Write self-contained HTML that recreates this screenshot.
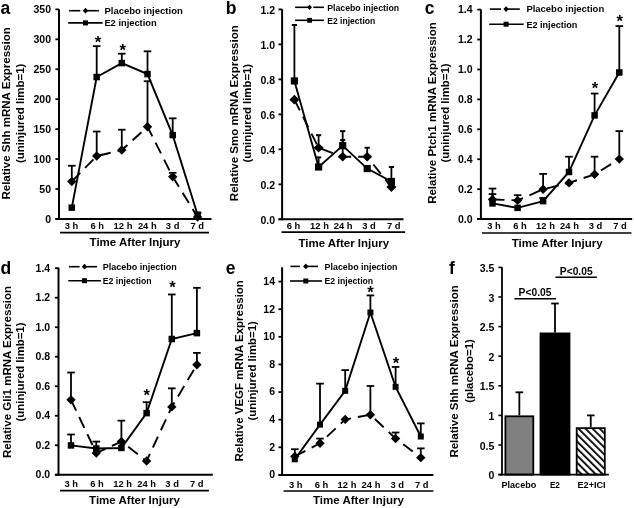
<!DOCTYPE html>
<html><head><meta charset="utf-8"><style>
html,body{margin:0;padding:0;background:#fff;}
svg{display:block;will-change:transform;}
text{font-family:"Liberation Sans",sans-serif;font-weight:bold;fill:#000;stroke:none;}
</style></head><body>
<svg width="634" height="508" viewBox="0 0 634 508">
<defs><pattern id="hatch" patternUnits="userSpaceOnUse" width="5" height="5" patternTransform="rotate(-45)"><rect width="5" height="5" fill="#fff"/><rect x="0" y="0" width="1.8" height="5" fill="#000"/></pattern></defs>
<rect width="634" height="508" fill="#fff"/>
<g stroke="#000" fill="#000">
<text x="0.50" y="13.80" font-size="17.5">a</text>
<line x1="59.00" y1="9.30" x2="59.00" y2="219.80" stroke-width="2.0"/>
<line x1="55.40" y1="218.90" x2="59.00" y2="218.90" stroke-width="1.8"/>
<text x="51.00" y="222.80" font-size="10.5" text-anchor="end">0</text>
<line x1="55.40" y1="188.97" x2="59.00" y2="188.97" stroke-width="1.8"/>
<text x="51.00" y="192.87" font-size="10.5" text-anchor="end">50</text>
<line x1="55.40" y1="159.04" x2="59.00" y2="159.04" stroke-width="1.8"/>
<text x="51.00" y="162.94" font-size="10.5" text-anchor="end">100</text>
<line x1="55.40" y1="129.11" x2="59.00" y2="129.11" stroke-width="1.8"/>
<text x="51.00" y="133.01" font-size="10.5" text-anchor="end">150</text>
<line x1="55.40" y1="99.19" x2="59.00" y2="99.19" stroke-width="1.8"/>
<text x="51.00" y="103.09" font-size="10.5" text-anchor="end">200</text>
<line x1="55.40" y1="69.26" x2="59.00" y2="69.26" stroke-width="1.8"/>
<text x="51.00" y="73.16" font-size="10.5" text-anchor="end">250</text>
<line x1="55.40" y1="39.33" x2="59.00" y2="39.33" stroke-width="1.8"/>
<text x="51.00" y="43.23" font-size="10.5" text-anchor="end">300</text>
<line x1="55.40" y1="9.40" x2="59.00" y2="9.40" stroke-width="1.8"/>
<text x="51.00" y="13.30" font-size="10.5" text-anchor="end">350</text>
<line x1="55.40" y1="218.90" x2="211.50" y2="218.90" stroke-width="2.0"/>
<text x="71.50" y="229.00" font-size="9.4" text-anchor="middle">3 h</text>
<text x="97.30" y="229.00" font-size="9.4" text-anchor="middle">6 h</text>
<text x="123.00" y="229.00" font-size="9.4" text-anchor="middle">12 h</text>
<text x="147.30" y="229.00" font-size="9.4" text-anchor="middle">24 h</text>
<text x="172.60" y="229.00" font-size="9.4" text-anchor="middle">3 d</text>
<text x="197.30" y="229.00" font-size="9.4" text-anchor="middle">7 d</text>
<line x1="60.00" y1="232.60" x2="209.00" y2="232.60" stroke-width="1.6"/>
<text x="89.60" y="246.20" font-size="11.5" textLength="90.80" lengthAdjust="spacingAndGlyphs">Time After Injury</text>
<text x="10.00" y="113.40" font-size="11.5" text-anchor="middle" textLength="172.30" lengthAdjust="spacingAndGlyphs" transform="rotate(-90 10.00 113.40)">Relative Shh mRNA Expression</text>
<text x="23.80" y="113.40" font-size="11.5" text-anchor="middle" textLength="99.40" lengthAdjust="spacingAndGlyphs" transform="rotate(-90 23.80 113.40)">(uninjured limb=1)</text>
<line x1="69.10" y1="10.70" x2="80.30" y2="10.70" stroke-width="1.6"/>
<line x1="85.50" y1="10.70" x2="98.90" y2="10.70" stroke-width="1.6"/>
<polygon points="85.50,7.80 88.20,10.70 85.50,13.60 82.80,10.70" stroke="none"/>
<line x1="68.20" y1="22.90" x2="102.60" y2="22.90" stroke-width="1.6"/>
<rect x="83.00" y="20.40" width="5.0" height="5.0" stroke="none"/>
<text x="104.40" y="14.00" font-size="9.3" textLength="78.40" lengthAdjust="spacingAndGlyphs">Placebo injection</text>
<text x="104.40" y="26.20" font-size="9.3" textLength="52.30" lengthAdjust="spacingAndGlyphs">E2 injection</text>
<line x1="71.80" y1="181.49" x2="71.80" y2="165.75" stroke-width="1.8"/>
<line x1="68.00" y1="165.75" x2="75.60" y2="165.75" stroke-width="1.8"/>
<line x1="96.70" y1="156.05" x2="96.70" y2="131.51" stroke-width="1.8"/>
<line x1="92.90" y1="131.51" x2="100.50" y2="131.51" stroke-width="1.8"/>
<line x1="121.80" y1="150.06" x2="121.80" y2="129.71" stroke-width="1.8"/>
<line x1="118.00" y1="129.71" x2="125.60" y2="129.71" stroke-width="1.8"/>
<line x1="147.50" y1="126.72" x2="147.50" y2="81.23" stroke-width="1.8"/>
<line x1="143.70" y1="81.23" x2="151.30" y2="81.23" stroke-width="1.8"/>
<line x1="172.70" y1="176.70" x2="172.70" y2="172.81" stroke-width="1.8"/>
<line x1="168.90" y1="172.81" x2="176.50" y2="172.81" stroke-width="1.8"/>
<line x1="197.60" y1="217.10" x2="197.60" y2="212.91" stroke-width="1.8"/>
<line x1="193.80" y1="212.91" x2="201.40" y2="212.91" stroke-width="1.8"/>
<line x1="96.70" y1="77.04" x2="96.70" y2="46.15" stroke-width="1.8"/>
<line x1="92.90" y1="46.15" x2="100.50" y2="46.15" stroke-width="1.8"/>
<line x1="121.80" y1="63.09" x2="121.80" y2="53.69" stroke-width="1.8"/>
<line x1="118.00" y1="53.69" x2="125.60" y2="53.69" stroke-width="1.8"/>
<line x1="147.50" y1="74.05" x2="147.50" y2="51.30" stroke-width="1.8"/>
<line x1="143.70" y1="51.30" x2="151.30" y2="51.30" stroke-width="1.8"/>
<line x1="172.70" y1="135.10" x2="172.70" y2="118.34" stroke-width="1.8"/>
<line x1="168.90" y1="118.34" x2="176.50" y2="118.34" stroke-width="1.8"/>
<polyline points="71.80,181.49 96.70,156.05 121.80,150.06 147.50,126.72 172.70,176.70 197.60,217.10" fill="none" stroke-width="1.9" stroke-dasharray="12,7"/>
<polyline points="71.80,207.65 96.70,77.04 121.80,63.09 147.50,74.05 172.70,135.10 197.60,214.71" fill="none" stroke-width="1.9"/>
<polygon points="71.80,176.79 76.50,181.49 71.80,186.19 67.10,181.49" stroke="none"/>
<polygon points="96.70,151.35 101.40,156.05 96.70,160.75 92.00,156.05" stroke="none"/>
<polygon points="121.80,145.36 126.50,150.06 121.80,154.76 117.10,150.06" stroke="none"/>
<polygon points="147.50,122.02 152.20,126.72 147.50,131.42 142.80,126.72" stroke="none"/>
<polygon points="172.70,172.00 177.40,176.70 172.70,181.40 168.00,176.70" stroke="none"/>
<polygon points="197.60,212.40 202.30,217.10 197.60,221.80 192.90,217.10" stroke="none"/>
<rect x="68.55" y="204.40" width="6.5" height="6.5" stroke="none"/>
<rect x="93.45" y="73.79" width="6.5" height="6.5" stroke="none"/>
<rect x="118.55" y="59.84" width="6.5" height="6.5" stroke="none"/>
<rect x="144.25" y="70.80" width="6.5" height="6.5" stroke="none"/>
<rect x="169.45" y="131.85" width="6.5" height="6.5" stroke="none"/>
<rect x="194.35" y="211.46" width="6.5" height="6.5" stroke="none"/>
<text x="98.00" y="47.84" font-size="16.6" text-anchor="middle">*</text>
<text x="122.80" y="56.24" font-size="16.6" text-anchor="middle">*</text>
<text x="225.80" y="14.30" font-size="17.5">b</text>
<line x1="282.10" y1="9.20" x2="282.10" y2="220.20" stroke-width="2.0"/>
<line x1="278.50" y1="219.30" x2="282.10" y2="219.30" stroke-width="1.8"/>
<text x="275.00" y="223.70" font-size="10.5" text-anchor="end">0.0</text>
<line x1="278.50" y1="184.32" x2="282.10" y2="184.32" stroke-width="1.8"/>
<text x="275.00" y="188.72" font-size="10.5" text-anchor="end">0.2</text>
<line x1="278.50" y1="149.33" x2="282.10" y2="149.33" stroke-width="1.8"/>
<text x="275.00" y="153.73" font-size="10.5" text-anchor="end">0.4</text>
<line x1="278.50" y1="114.35" x2="282.10" y2="114.35" stroke-width="1.8"/>
<text x="275.00" y="118.75" font-size="10.5" text-anchor="end">0.6</text>
<line x1="278.50" y1="79.37" x2="282.10" y2="79.37" stroke-width="1.8"/>
<text x="275.00" y="83.77" font-size="10.5" text-anchor="end">0.8</text>
<line x1="278.50" y1="44.38" x2="282.10" y2="44.38" stroke-width="1.8"/>
<text x="275.00" y="48.78" font-size="10.5" text-anchor="end">1.0</text>
<line x1="278.50" y1="9.40" x2="282.10" y2="9.40" stroke-width="1.8"/>
<text x="275.00" y="13.80" font-size="10.5" text-anchor="end">1.2</text>
<line x1="278.50" y1="219.30" x2="403.50" y2="219.30" stroke-width="2.0"/>
<text x="293.50" y="229.00" font-size="9.4" text-anchor="middle">6 h</text>
<text x="319.50" y="229.00" font-size="9.4" text-anchor="middle">12 h</text>
<text x="343.20" y="229.00" font-size="9.4" text-anchor="middle">24 h</text>
<text x="369.00" y="229.00" font-size="9.4" text-anchor="middle">3 d</text>
<text x="393.80" y="229.00" font-size="9.4" text-anchor="middle">7 d</text>
<line x1="281.50" y1="232.10" x2="405.10" y2="232.10" stroke-width="1.6"/>
<text x="298.40" y="246.50" font-size="11.5" textLength="90.80" lengthAdjust="spacingAndGlyphs">Time After Injury</text>
<text x="238.10" y="113.20" font-size="11.5" text-anchor="middle" textLength="176.00" lengthAdjust="spacingAndGlyphs" transform="rotate(-90 238.10 113.20)">Relative Smo mRNA Expression</text>
<text x="251.40" y="113.20" font-size="11.5" text-anchor="middle" textLength="98.60" lengthAdjust="spacingAndGlyphs" transform="rotate(-90 251.40 113.20)">(uninjured limb=1)</text>
<line x1="295.10" y1="7.30" x2="309.70" y2="7.30" stroke-width="1.6"/>
<line x1="313.30" y1="7.30" x2="323.90" y2="7.30" stroke-width="1.6"/>
<polygon points="309.60,4.70 312.00,7.30 309.60,9.90 307.20,7.30" stroke="none"/>
<line x1="295.10" y1="20.30" x2="323.90" y2="20.30" stroke-width="1.6"/>
<rect x="307.20" y="17.90" width="4.8" height="4.8" stroke="none"/>
<text x="327.20" y="10.60" font-size="8.7" textLength="71.90" lengthAdjust="spacingAndGlyphs">Placebo injection</text>
<text x="327.20" y="23.60" font-size="8.7" textLength="48.10" lengthAdjust="spacingAndGlyphs">E2 injection</text>
<line x1="318.60" y1="147.76" x2="318.60" y2="135.17" stroke-width="1.8"/>
<line x1="316.00" y1="135.17" x2="321.20" y2="135.17" stroke-width="2.0"/>
<line x1="342.70" y1="156.68" x2="342.70" y2="140.06" stroke-width="1.8"/>
<line x1="340.10" y1="140.06" x2="345.30" y2="140.06" stroke-width="2.0"/>
<line x1="367.20" y1="156.68" x2="367.20" y2="147.76" stroke-width="1.8"/>
<line x1="364.60" y1="147.76" x2="369.80" y2="147.76" stroke-width="2.0"/>
<line x1="294.40" y1="80.94" x2="294.40" y2="24.97" stroke-width="1.8"/>
<line x1="291.80" y1="24.97" x2="297.00" y2="24.97" stroke-width="2.0"/>
<line x1="318.60" y1="167.00" x2="318.60" y2="157.38" stroke-width="1.8"/>
<line x1="316.00" y1="157.38" x2="321.20" y2="157.38" stroke-width="2.0"/>
<line x1="342.70" y1="145.66" x2="342.70" y2="131.14" stroke-width="1.8"/>
<line x1="340.10" y1="131.14" x2="345.30" y2="131.14" stroke-width="2.0"/>
<line x1="391.40" y1="181.52" x2="391.40" y2="167.00" stroke-width="1.8"/>
<line x1="388.80" y1="167.00" x2="394.00" y2="167.00" stroke-width="2.0"/>
<polyline points="294.40,99.66 318.60,147.76 342.70,156.68 367.20,156.68 391.40,187.12" fill="none" stroke-width="1.9" stroke-dasharray="12,7"/>
<polyline points="294.40,80.94 318.60,167.00 342.70,145.66 367.20,168.57 391.40,181.52" fill="none" stroke-width="1.9"/>
<polygon points="294.40,94.86 299.40,99.66 294.40,104.46 289.40,99.66" stroke="none"/>
<polygon points="318.60,142.96 323.60,147.76 318.60,152.56 313.60,147.76" stroke="none"/>
<polygon points="342.70,151.88 347.70,156.68 342.70,161.48 337.70,156.68" stroke="none"/>
<polygon points="367.20,151.88 372.20,156.68 367.20,161.48 362.20,156.68" stroke="none"/>
<polygon points="391.40,182.32 396.40,187.12 391.40,191.92 386.40,187.12" stroke="none"/>
<rect x="290.80" y="77.34" width="7.2" height="7.2" stroke="none"/>
<rect x="315.00" y="163.40" width="7.2" height="7.2" stroke="none"/>
<rect x="339.10" y="142.06" width="7.2" height="7.2" stroke="none"/>
<rect x="363.60" y="164.97" width="7.2" height="7.2" stroke="none"/>
<rect x="387.80" y="177.92" width="7.2" height="7.2" stroke="none"/>
<text x="424.80" y="14.40" font-size="17.5">c</text>
<line x1="480.90" y1="9.40" x2="480.90" y2="220.00" stroke-width="2.0"/>
<line x1="477.30" y1="219.10" x2="480.90" y2="219.10" stroke-width="1.8"/>
<text x="472.50" y="222.50" font-size="10.5" text-anchor="end">0.0</text>
<line x1="477.30" y1="189.17" x2="480.90" y2="189.17" stroke-width="1.8"/>
<text x="472.50" y="192.57" font-size="10.5" text-anchor="end">0.2</text>
<line x1="477.30" y1="159.24" x2="480.90" y2="159.24" stroke-width="1.8"/>
<text x="472.50" y="162.64" font-size="10.5" text-anchor="end">0.4</text>
<line x1="477.30" y1="129.31" x2="480.90" y2="129.31" stroke-width="1.8"/>
<text x="472.50" y="132.71" font-size="10.5" text-anchor="end">0.6</text>
<line x1="477.30" y1="99.39" x2="480.90" y2="99.39" stroke-width="1.8"/>
<text x="472.50" y="102.79" font-size="10.5" text-anchor="end">0.8</text>
<line x1="477.30" y1="69.46" x2="480.90" y2="69.46" stroke-width="1.8"/>
<text x="472.50" y="72.86" font-size="10.5" text-anchor="end">1.0</text>
<line x1="477.30" y1="39.53" x2="480.90" y2="39.53" stroke-width="1.8"/>
<text x="472.50" y="42.93" font-size="10.5" text-anchor="end">1.2</text>
<line x1="477.30" y1="9.60" x2="480.90" y2="9.60" stroke-width="1.8"/>
<text x="472.50" y="13.00" font-size="10.5" text-anchor="end">1.4</text>
<line x1="477.30" y1="219.10" x2="632.20" y2="219.10" stroke-width="2.0"/>
<text x="494.00" y="229.30" font-size="9.4" text-anchor="middle">3 h</text>
<text x="520.00" y="229.30" font-size="9.4" text-anchor="middle">6 h</text>
<text x="545.50" y="229.30" font-size="9.4" text-anchor="middle">12 h</text>
<text x="569.50" y="229.30" font-size="9.4" text-anchor="middle">24 h</text>
<text x="595.50" y="229.30" font-size="9.4" text-anchor="middle">3 d</text>
<text x="620.00" y="229.30" font-size="9.4" text-anchor="middle">7 d</text>
<line x1="481.90" y1="233.00" x2="631.40" y2="233.00" stroke-width="1.6"/>
<text x="511.80" y="246.80" font-size="11.5" textLength="90.80" lengthAdjust="spacingAndGlyphs">Time After Injury</text>
<text x="435.50" y="113.00" font-size="11.5" text-anchor="middle" textLength="181.70" lengthAdjust="spacingAndGlyphs" transform="rotate(-90 435.50 113.00)">Relative Ptch1 mRNA Expression</text>
<text x="449.00" y="113.00" font-size="11.5" text-anchor="middle" textLength="99.20" lengthAdjust="spacingAndGlyphs" transform="rotate(-90 449.00 113.00)">(uninjured limb=1)</text>
<line x1="489.80" y1="9.10" x2="501.00" y2="9.10" stroke-width="1.6"/>
<line x1="506.20" y1="9.10" x2="519.80" y2="9.10" stroke-width="1.6"/>
<polygon points="506.10,6.20 508.80,9.10 506.10,12.00 503.40,9.10" stroke="none"/>
<line x1="489.10" y1="24.20" x2="523.70" y2="24.20" stroke-width="1.6"/>
<rect x="503.60" y="21.70" width="5.0" height="5.0" stroke="none"/>
<text x="526.40" y="12.40" font-size="9.3" textLength="77.80" lengthAdjust="spacingAndGlyphs">Placebo injection</text>
<text x="526.40" y="27.50" font-size="9.3" textLength="51.00" lengthAdjust="spacingAndGlyphs">E2 injection</text>
<line x1="492.50" y1="199.50" x2="492.50" y2="188.57" stroke-width="1.8"/>
<line x1="488.70" y1="188.57" x2="496.30" y2="188.57" stroke-width="1.8"/>
<line x1="517.60" y1="200.39" x2="517.60" y2="195.16" stroke-width="1.8"/>
<line x1="513.80" y1="195.16" x2="521.40" y2="195.16" stroke-width="1.8"/>
<line x1="543.10" y1="189.32" x2="543.10" y2="173.91" stroke-width="1.8"/>
<line x1="539.30" y1="173.91" x2="546.90" y2="173.91" stroke-width="1.8"/>
<line x1="594.60" y1="174.36" x2="594.60" y2="156.70" stroke-width="1.8"/>
<line x1="590.80" y1="156.70" x2="598.40" y2="156.70" stroke-width="1.8"/>
<line x1="619.30" y1="159.09" x2="619.30" y2="131.11" stroke-width="1.8"/>
<line x1="615.50" y1="131.11" x2="623.10" y2="131.11" stroke-width="1.8"/>
<line x1="492.50" y1="203.39" x2="492.50" y2="194.11" stroke-width="1.8"/>
<line x1="488.70" y1="194.11" x2="496.30" y2="194.11" stroke-width="1.8"/>
<line x1="543.10" y1="201.14" x2="543.10" y2="198.00" stroke-width="1.8"/>
<line x1="539.30" y1="198.00" x2="546.90" y2="198.00" stroke-width="1.8"/>
<line x1="569.00" y1="171.96" x2="569.00" y2="156.70" stroke-width="1.8"/>
<line x1="565.20" y1="156.70" x2="572.80" y2="156.70" stroke-width="1.8"/>
<line x1="594.60" y1="115.40" x2="594.60" y2="93.55" stroke-width="1.8"/>
<line x1="590.80" y1="93.55" x2="598.40" y2="93.55" stroke-width="1.8"/>
<line x1="619.30" y1="72.45" x2="619.30" y2="26.06" stroke-width="1.8"/>
<line x1="615.50" y1="26.06" x2="623.10" y2="26.06" stroke-width="1.8"/>
<polyline points="492.50,199.50 517.60,200.39 543.10,189.32 569.00,182.89 594.60,174.36 619.30,159.09" fill="none" stroke-width="1.9" stroke-dasharray="12,7"/>
<polyline points="492.50,203.39 517.60,207.88 543.10,201.14 569.00,171.96 594.60,115.40 619.30,72.45" fill="none" stroke-width="1.9"/>
<polygon points="492.50,194.80 497.20,199.50 492.50,204.20 487.80,199.50" stroke="none"/>
<polygon points="517.60,195.69 522.30,200.39 517.60,205.09 512.90,200.39" stroke="none"/>
<polygon points="543.10,184.62 547.80,189.32 543.10,194.02 538.40,189.32" stroke="none"/>
<polygon points="569.00,178.19 573.70,182.89 569.00,187.59 564.30,182.89" stroke="none"/>
<polygon points="594.60,169.66 599.30,174.36 594.60,179.06 589.90,174.36" stroke="none"/>
<polygon points="619.30,154.39 624.00,159.09 619.30,163.79 614.60,159.09" stroke="none"/>
<rect x="489.25" y="200.14" width="6.5" height="6.5" stroke="none"/>
<rect x="514.35" y="204.63" width="6.5" height="6.5" stroke="none"/>
<rect x="539.85" y="197.89" width="6.5" height="6.5" stroke="none"/>
<rect x="565.75" y="168.71" width="6.5" height="6.5" stroke="none"/>
<rect x="591.35" y="112.15" width="6.5" height="6.5" stroke="none"/>
<rect x="616.05" y="69.20" width="6.5" height="6.5" stroke="none"/>
<text x="595.00" y="93.94" font-size="16.6" text-anchor="middle">*</text>
<text x="619.70" y="27.44" font-size="16.6" text-anchor="middle">*</text>
<text x="0.50" y="273.90" font-size="17.5">d</text>
<line x1="58.50" y1="267.60" x2="58.50" y2="475.70" stroke-width="2.0"/>
<line x1="54.90" y1="474.80" x2="58.50" y2="474.80" stroke-width="1.8"/>
<text x="50.20" y="478.20" font-size="10.5" text-anchor="end">0.0</text>
<line x1="54.90" y1="445.29" x2="58.50" y2="445.29" stroke-width="1.8"/>
<text x="50.20" y="448.69" font-size="10.5" text-anchor="end">0.2</text>
<line x1="54.90" y1="415.77" x2="58.50" y2="415.77" stroke-width="1.8"/>
<text x="50.20" y="419.17" font-size="10.5" text-anchor="end">0.4</text>
<line x1="54.90" y1="386.26" x2="58.50" y2="386.26" stroke-width="1.8"/>
<text x="50.20" y="389.66" font-size="10.5" text-anchor="end">0.6</text>
<line x1="54.90" y1="356.74" x2="58.50" y2="356.74" stroke-width="1.8"/>
<text x="50.20" y="360.14" font-size="10.5" text-anchor="end">0.8</text>
<line x1="54.90" y1="327.23" x2="58.50" y2="327.23" stroke-width="1.8"/>
<text x="50.20" y="330.63" font-size="10.5" text-anchor="end">1.0</text>
<line x1="54.90" y1="297.71" x2="58.50" y2="297.71" stroke-width="1.8"/>
<text x="50.20" y="301.11" font-size="10.5" text-anchor="end">1.2</text>
<line x1="54.90" y1="268.20" x2="58.50" y2="268.20" stroke-width="1.8"/>
<text x="50.20" y="271.60" font-size="10.5" text-anchor="end">1.4</text>
<line x1="54.90" y1="474.80" x2="212.80" y2="474.80" stroke-width="2.0"/>
<text x="71.30" y="487.20" font-size="9.4" text-anchor="middle">3 h</text>
<text x="96.90" y="487.20" font-size="9.4" text-anchor="middle">6 h</text>
<text x="122.60" y="487.20" font-size="9.4" text-anchor="middle">12 h</text>
<text x="146.60" y="487.20" font-size="9.4" text-anchor="middle">24 h</text>
<text x="172.10" y="487.20" font-size="9.4" text-anchor="middle">3 d</text>
<text x="196.80" y="487.20" font-size="9.4" text-anchor="middle">7 d</text>
<line x1="60.00" y1="490.60" x2="208.90" y2="490.60" stroke-width="1.6"/>
<text x="89.10" y="504.20" font-size="11.5" textLength="90.80" lengthAdjust="spacingAndGlyphs">Time After Injury</text>
<text x="10.70" y="372.00" font-size="11.5" text-anchor="middle" textLength="172.00" lengthAdjust="spacingAndGlyphs" transform="rotate(-90 10.70 372.00)">Relative Gli1 mRNA Expression</text>
<text x="24.00" y="372.00" font-size="11.5" text-anchor="middle" textLength="98.90" lengthAdjust="spacingAndGlyphs" transform="rotate(-90 24.00 372.00)">(uninjured limb=1)</text>
<line x1="69.00" y1="266.70" x2="79.60" y2="266.70" stroke-width="1.6"/>
<line x1="84.60" y1="266.70" x2="97.00" y2="266.70" stroke-width="1.6"/>
<polygon points="84.50,263.80 87.20,266.70 84.50,269.60 81.80,266.70" stroke="none"/>
<line x1="68.30" y1="280.70" x2="100.90" y2="280.70" stroke-width="1.6"/>
<rect x="82.00" y="278.20" width="5.0" height="5.0" stroke="none"/>
<text x="102.70" y="270.00" font-size="8.9" textLength="74.00" lengthAdjust="spacingAndGlyphs">Placebo injection</text>
<text x="102.70" y="284.00" font-size="8.9" textLength="49.00" lengthAdjust="spacingAndGlyphs">E2 injection</text>
<line x1="71.00" y1="399.83" x2="71.00" y2="372.53" stroke-width="1.8"/>
<line x1="67.20" y1="372.53" x2="74.80" y2="372.53" stroke-width="1.8"/>
<line x1="96.30" y1="452.96" x2="96.30" y2="441.60" stroke-width="1.8"/>
<line x1="92.50" y1="441.60" x2="100.10" y2="441.60" stroke-width="1.8"/>
<line x1="121.40" y1="441.60" x2="121.40" y2="420.64" stroke-width="1.8"/>
<line x1="117.60" y1="420.64" x2="125.20" y2="420.64" stroke-width="1.8"/>
<line x1="171.80" y1="406.92" x2="171.80" y2="388.32" stroke-width="1.8"/>
<line x1="168.00" y1="388.32" x2="175.60" y2="388.32" stroke-width="1.8"/>
<line x1="196.90" y1="364.71" x2="196.90" y2="352.91" stroke-width="1.8"/>
<line x1="193.10" y1="352.91" x2="200.70" y2="352.91" stroke-width="1.8"/>
<line x1="71.00" y1="445.43" x2="71.00" y2="434.51" stroke-width="1.8"/>
<line x1="67.20" y1="434.51" x2="74.80" y2="434.51" stroke-width="1.8"/>
<line x1="146.60" y1="413.12" x2="146.60" y2="402.19" stroke-width="1.8"/>
<line x1="142.80" y1="402.19" x2="150.40" y2="402.19" stroke-width="1.8"/>
<line x1="171.80" y1="339.03" x2="171.80" y2="294.47" stroke-width="1.8"/>
<line x1="168.00" y1="294.47" x2="175.60" y2="294.47" stroke-width="1.8"/>
<line x1="196.90" y1="333.13" x2="196.90" y2="287.83" stroke-width="1.8"/>
<line x1="193.10" y1="287.83" x2="200.70" y2="287.83" stroke-width="1.8"/>
<polyline points="71.00,399.83 96.30,452.96 121.40,441.60 146.60,460.93 171.80,406.92 196.90,364.71" fill="none" stroke-width="1.9" stroke-dasharray="12,7"/>
<polyline points="71.00,445.43 96.30,448.53 121.40,447.94 146.60,413.12 171.80,339.03 196.90,333.13" fill="none" stroke-width="1.9"/>
<polygon points="71.00,395.13 75.70,399.83 71.00,404.53 66.30,399.83" stroke="none"/>
<polygon points="96.30,448.26 101.00,452.96 96.30,457.66 91.60,452.96" stroke="none"/>
<polygon points="121.40,436.90 126.10,441.60 121.40,446.30 116.70,441.60" stroke="none"/>
<polygon points="146.60,456.23 151.30,460.93 146.60,465.63 141.90,460.93" stroke="none"/>
<polygon points="171.80,402.22 176.50,406.92 171.80,411.62 167.10,406.92" stroke="none"/>
<polygon points="196.90,360.01 201.60,364.71 196.90,369.41 192.20,364.71" stroke="none"/>
<rect x="67.75" y="442.18" width="6.5" height="6.5" stroke="none"/>
<rect x="93.05" y="445.28" width="6.5" height="6.5" stroke="none"/>
<rect x="118.15" y="444.69" width="6.5" height="6.5" stroke="none"/>
<rect x="143.35" y="409.87" width="6.5" height="6.5" stroke="none"/>
<rect x="168.55" y="335.78" width="6.5" height="6.5" stroke="none"/>
<rect x="193.65" y="329.88" width="6.5" height="6.5" stroke="none"/>
<text x="172.40" y="293.04" font-size="16.6" text-anchor="middle">*</text>
<text x="146.80" y="400.94" font-size="16.6" text-anchor="middle">*</text>
<text x="225.80" y="273.70" font-size="17.5">e</text>
<line x1="282.10" y1="267.30" x2="282.10" y2="475.80" stroke-width="2.0"/>
<line x1="278.50" y1="474.90" x2="282.10" y2="474.90" stroke-width="1.8"/>
<text x="275.00" y="478.30" font-size="10.5" text-anchor="end">0</text>
<line x1="278.50" y1="447.29" x2="282.10" y2="447.29" stroke-width="1.8"/>
<text x="275.00" y="450.69" font-size="10.5" text-anchor="end">2</text>
<line x1="278.50" y1="419.67" x2="282.10" y2="419.67" stroke-width="1.8"/>
<text x="275.00" y="423.07" font-size="10.5" text-anchor="end">4</text>
<line x1="278.50" y1="392.06" x2="282.10" y2="392.06" stroke-width="1.8"/>
<text x="275.00" y="395.46" font-size="10.5" text-anchor="end">6</text>
<line x1="278.50" y1="364.44" x2="282.10" y2="364.44" stroke-width="1.8"/>
<text x="275.00" y="367.84" font-size="10.5" text-anchor="end">8</text>
<line x1="278.50" y1="336.83" x2="282.10" y2="336.83" stroke-width="1.8"/>
<text x="275.00" y="340.23" font-size="10.5" text-anchor="end">10</text>
<line x1="278.50" y1="309.21" x2="282.10" y2="309.21" stroke-width="1.8"/>
<text x="275.00" y="312.61" font-size="10.5" text-anchor="end">12</text>
<line x1="278.50" y1="281.60" x2="282.10" y2="281.60" stroke-width="1.8"/>
<text x="275.00" y="285.00" font-size="10.5" text-anchor="end">14</text>
<line x1="278.50" y1="474.90" x2="433.40" y2="474.90" stroke-width="2.0"/>
<text x="295.70" y="487.50" font-size="9.4" text-anchor="middle">3 h</text>
<text x="321.40" y="487.50" font-size="9.4" text-anchor="middle">6 h</text>
<text x="347.00" y="487.50" font-size="9.4" text-anchor="middle">12 h</text>
<text x="371.00" y="487.50" font-size="9.4" text-anchor="middle">24 h</text>
<text x="397.20" y="487.50" font-size="9.4" text-anchor="middle">3 d</text>
<text x="421.80" y="487.50" font-size="9.4" text-anchor="middle">7 d</text>
<line x1="283.60" y1="491.00" x2="433.40" y2="491.00" stroke-width="1.6"/>
<text x="313.00" y="504.40" font-size="11.5" textLength="90.80" lengthAdjust="spacingAndGlyphs">Time After Injury</text>
<text x="242.90" y="370.80" font-size="11.5" text-anchor="middle" textLength="181.30" lengthAdjust="spacingAndGlyphs" transform="rotate(-90 242.90 370.80)">Relative VEGF mRNA Expression</text>
<text x="256.50" y="370.80" font-size="11.5" text-anchor="middle" textLength="99.30" lengthAdjust="spacingAndGlyphs" transform="rotate(-90 256.50 370.80)">(uninjured limb=1)</text>
<line x1="290.40" y1="266.40" x2="299.90" y2="266.40" stroke-width="1.6"/>
<line x1="306.00" y1="266.40" x2="318.00" y2="266.40" stroke-width="1.6"/>
<polygon points="305.80,263.50 308.50,266.40 305.80,269.30 303.10,266.40" stroke="none"/>
<line x1="290.00" y1="281.00" x2="322.00" y2="281.00" stroke-width="1.6"/>
<rect x="303.30" y="278.50" width="5.0" height="5.0" stroke="none"/>
<text x="324.60" y="269.70" font-size="8.9" textLength="72.90" lengthAdjust="spacingAndGlyphs">Placebo injection</text>
<text x="324.60" y="284.30" font-size="8.9" textLength="48.50" lengthAdjust="spacingAndGlyphs">E2 injection</text>
<line x1="294.80" y1="456.40" x2="294.80" y2="449.22" stroke-width="1.8"/>
<line x1="291.00" y1="449.22" x2="298.60" y2="449.22" stroke-width="1.8"/>
<line x1="320.00" y1="443.28" x2="320.00" y2="438.59" stroke-width="1.8"/>
<line x1="316.20" y1="438.59" x2="323.80" y2="438.59" stroke-width="1.8"/>
<line x1="370.40" y1="414.70" x2="370.40" y2="385.98" stroke-width="1.8"/>
<line x1="366.60" y1="385.98" x2="374.20" y2="385.98" stroke-width="1.8"/>
<line x1="395.60" y1="438.59" x2="395.60" y2="432.51" stroke-width="1.8"/>
<line x1="391.80" y1="432.51" x2="399.40" y2="432.51" stroke-width="1.8"/>
<line x1="420.80" y1="457.64" x2="420.80" y2="448.39" stroke-width="1.8"/>
<line x1="417.00" y1="448.39" x2="424.60" y2="448.39" stroke-width="1.8"/>
<line x1="320.00" y1="424.64" x2="320.00" y2="383.63" stroke-width="1.8"/>
<line x1="316.20" y1="383.63" x2="323.80" y2="383.63" stroke-width="1.8"/>
<line x1="345.20" y1="390.81" x2="345.20" y2="370.10" stroke-width="1.8"/>
<line x1="341.40" y1="370.10" x2="349.00" y2="370.10" stroke-width="1.8"/>
<line x1="370.40" y1="312.53" x2="370.40" y2="295.41" stroke-width="1.8"/>
<line x1="366.60" y1="295.41" x2="374.20" y2="295.41" stroke-width="1.8"/>
<line x1="395.60" y1="386.81" x2="395.60" y2="366.93" stroke-width="1.8"/>
<line x1="391.80" y1="366.93" x2="399.40" y2="366.93" stroke-width="1.8"/>
<line x1="420.80" y1="436.52" x2="420.80" y2="423.40" stroke-width="1.8"/>
<line x1="417.00" y1="423.40" x2="424.60" y2="423.40" stroke-width="1.8"/>
<polyline points="294.80,456.40 320.00,443.28 345.20,419.40 370.40,414.70 395.60,438.59 420.80,457.64" fill="none" stroke-width="1.9" stroke-dasharray="12,7"/>
<polyline points="294.80,459.30 320.00,424.64 345.20,390.81 370.40,312.53 395.60,386.81 420.80,436.52" fill="none" stroke-width="1.9"/>
<polygon points="294.80,451.70 299.50,456.40 294.80,461.10 290.10,456.40" stroke="none"/>
<polygon points="320.00,438.58 324.70,443.28 320.00,447.98 315.30,443.28" stroke="none"/>
<polygon points="345.20,414.70 349.90,419.40 345.20,424.10 340.50,419.40" stroke="none"/>
<polygon points="370.40,410.00 375.10,414.70 370.40,419.40 365.70,414.70" stroke="none"/>
<polygon points="395.60,433.89 400.30,438.59 395.60,443.29 390.90,438.59" stroke="none"/>
<polygon points="420.80,452.94 425.50,457.64 420.80,462.34 416.10,457.64" stroke="none"/>
<rect x="291.80" y="456.30" width="6.0" height="6.0" stroke="none"/>
<rect x="317.00" y="421.64" width="6.0" height="6.0" stroke="none"/>
<rect x="342.20" y="387.81" width="6.0" height="6.0" stroke="none"/>
<rect x="367.40" y="309.53" width="6.0" height="6.0" stroke="none"/>
<rect x="392.60" y="383.81" width="6.0" height="6.0" stroke="none"/>
<rect x="417.80" y="433.52" width="6.0" height="6.0" stroke="none"/>
<text x="370.60" y="298.44" font-size="16.6" text-anchor="middle">*</text>
<text x="396.10" y="369.34" font-size="16.6" text-anchor="middle">*</text>
<text x="449.00" y="273.60" font-size="17.5">f</text>
<line x1="502.00" y1="267.20" x2="502.00" y2="475.50" stroke-width="1.8"/>
<line x1="498.40" y1="474.60" x2="502.00" y2="474.60" stroke-width="1.6"/>
<text x="494.40" y="479.10" font-size="10.5" text-anchor="end">0</text>
<line x1="498.40" y1="445.00" x2="502.00" y2="445.00" stroke-width="1.6"/>
<text x="494.40" y="449.50" font-size="10.5" text-anchor="end">0.5</text>
<line x1="498.40" y1="415.40" x2="502.00" y2="415.40" stroke-width="1.6"/>
<text x="494.40" y="419.90" font-size="10.5" text-anchor="end">1</text>
<line x1="498.40" y1="385.80" x2="502.00" y2="385.80" stroke-width="1.6"/>
<text x="494.40" y="390.30" font-size="10.5" text-anchor="end">1.5</text>
<line x1="498.40" y1="356.20" x2="502.00" y2="356.20" stroke-width="1.6"/>
<text x="494.40" y="360.70" font-size="10.5" text-anchor="end">2</text>
<line x1="498.40" y1="326.60" x2="502.00" y2="326.60" stroke-width="1.6"/>
<text x="494.40" y="331.10" font-size="10.5" text-anchor="end">2.5</text>
<line x1="498.40" y1="297.00" x2="502.00" y2="297.00" stroke-width="1.6"/>
<text x="494.40" y="301.50" font-size="10.5" text-anchor="end">3</text>
<line x1="498.40" y1="267.40" x2="502.00" y2="267.40" stroke-width="1.6"/>
<text x="494.40" y="271.90" font-size="10.5" text-anchor="end">3.5</text>
<line x1="519.35" y1="415.40" x2="519.35" y2="392.31" stroke-width="1.8"/>
<line x1="515.55" y1="392.31" x2="523.15" y2="392.31" stroke-width="1.8"/>
<rect x="505.40" y="416.30" width="27.90" height="58.30" fill="#808080" stroke-width="1.8"/>
<line x1="555.00" y1="332.52" x2="555.00" y2="303.51" stroke-width="1.8"/>
<line x1="551.20" y1="303.51" x2="558.80" y2="303.51" stroke-width="1.8"/>
<rect x="540.50" y="333.42" width="29.00" height="141.18" fill="#000" stroke-width="1.8"/>
<line x1="590.75" y1="427.24" x2="590.75" y2="415.40" stroke-width="1.8"/>
<line x1="586.95" y1="415.40" x2="594.55" y2="415.40" stroke-width="1.8"/>
<rect x="576.70" y="428.14" width="28.10" height="46.46" fill="url(#hatch)" stroke-width="1.8"/>
<line x1="498.40" y1="474.60" x2="608.80" y2="474.60" stroke-width="1.8"/>
<text x="518.90" y="488.00" font-size="9.1" text-anchor="middle" textLength="34.80" lengthAdjust="spacingAndGlyphs">Placebo</text>
<text x="554.90" y="488.00" font-size="9.1" text-anchor="middle" textLength="10.00" lengthAdjust="spacingAndGlyphs">E2</text>
<text x="591.60" y="488.00" font-size="9.1" text-anchor="middle" textLength="28.10" lengthAdjust="spacingAndGlyphs">E2+ICI</text>
<line x1="555.40" y1="277.30" x2="596.80" y2="277.30" stroke-width="1.6"/>
<text x="576.20" y="274.80" font-size="10.3" text-anchor="middle" textLength="32.80" lengthAdjust="spacingAndGlyphs">P&lt;0.05</text>
<line x1="514.40" y1="298.70" x2="556.00" y2="298.70" stroke-width="1.6"/>
<text x="535.00" y="295.90" font-size="10.3" text-anchor="middle" textLength="32.80" lengthAdjust="spacingAndGlyphs">P&lt;0.05</text>
<text x="458.20" y="371.40" font-size="11.5" text-anchor="middle" textLength="172.40" lengthAdjust="spacingAndGlyphs" transform="rotate(-90 458.20 371.40)">Relative Shh mRNA Expression</text>
<text x="473.00" y="371.00" font-size="11.5" text-anchor="middle" textLength="63.70" lengthAdjust="spacingAndGlyphs" transform="rotate(-90 473.00 371.00)">(placebo=1)</text>
</g>
</svg>
</body></html>
